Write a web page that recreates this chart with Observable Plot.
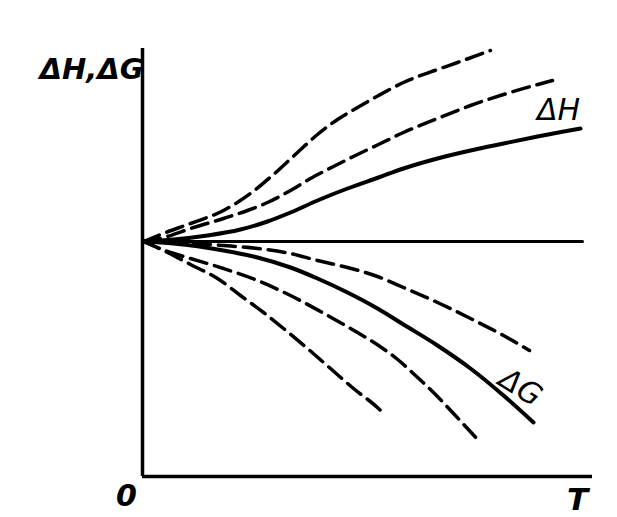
<!DOCTYPE html>
<html>
<head>
<meta charset="utf-8">
<script src="https://cdn.jsdelivr.net/npm/d3@7"></script>
<script src="https://cdn.jsdelivr.net/npm/@observablehq/plot@0.6"></script>
<style>
  html, body { margin: 0; padding: 0; background: #fff; }
  svg { display: block; }
</style>
</head>
<body>
<div id="chart"></div>
<script>
// Values (T, energy) in arbitrary units
const tH1 = [1, 18, 48, 81, 108, 131, 155, 175, 195, 215, 236, 261, 295, 315, 348];
const vH1 = [235, 242, 253, 266, 283, 302, 324, 342, 357, 369, 381, 394, 407, 414, 426];

const tH2 = [1, 21, 51, 81, 105, 125, 148, 168, 191, 215, 236, 261, 295, 328, 361, 410];
const vH2 = [235, 239, 249, 258, 266, 274, 286, 298, 310, 322, 332, 344, 358, 371, 382, 396];

const tH = [1, 31, 65, 98, 125, 148, 175, 205, 236, 261, 295, 328, 361, 395, 438];
const vH = [235, 237, 241, 247, 255, 264, 276, 288, 299, 308, 318, 326, 333, 340, 348];

const tFlat = [1, 440];
const vFlat = [235, 235];

const tG1 = [1, 38, 81, 115, 148, 175, 205, 235, 261, 295, 328, 361, 387];
const vG1 = [235, 234, 231, 228, 223, 216, 209, 200, 189, 174, 158, 141, 126];

const tG = [1, 31, 81, 115, 148, 175, 205, 235, 261, 295, 328, 361, 391];
const vG = [235, 233, 226, 219, 209, 198, 184, 168, 152, 131, 108, 81, 54];

const tG2 = [1, 25, 48, 81, 115, 148, 178, 208, 236, 254, 273, 293, 311, 336];
const vG2 = [235, 225, 218, 208, 196, 181, 165, 148, 131, 118, 101, 82, 63, 36];

const tG3 = [1, 25, 48, 75, 98, 121, 141, 165, 188, 211, 236, 243];
const vG3 = [235, 224, 212, 198, 181, 164, 148, 128, 108, 88, 68, 61];

const xAxisEnd = 450;
const yAxisEnd = 428;

const labels = ["ΔH,ΔG", "0", "T", "ΔH", "ΔG"];

const toRows = (ts, vs) => ts.map((t, i) => ({t, v: vs[i]}));

const ink = "#000";
const font = "'DejaVu Sans', sans-serif";
const dash = {stroke: ink, strokeWidth: 3.5, strokeDasharray: "17,8", curve: "monotone-x"};
const solid = {stroke: ink, strokeWidth: 4, curve: "monotone-x"};

const chart = Plot.plot({
  width: 617,
  height: 517,
  marginLeft: 142,
  marginRight: 25,
  marginTop: 48,
  marginBottom: 41,
  x: {domain: [0, xAxisEnd], axis: null},
  y: {domain: [0, yAxisEnd], axis: null},
  style: {fontFamily: font, background: "#fff"},
  marks: [
    Plot.ruleX([0], {y1: 0, y2: yAxisEnd, stroke: ink, strokeWidth: 3.5}),
    Plot.ruleY([0], {x1: 0, x2: xAxisEnd, stroke: ink, strokeWidth: 3.5}),
    Plot.line(toRows(tFlat, vFlat), {x: "t", y: "v", stroke: ink, strokeWidth: 3}),
    Plot.line(toRows(tH1, vH1), {x: "t", y: "v", ...dash}),
    Plot.line(toRows(tH2, vH2), {x: "t", y: "v", ...dash}),
    Plot.line(toRows(tH, vH), {x: "t", y: "v", ...solid}),
    Plot.line(toRows(tG1, vG1), {x: "t", y: "v", ...dash}),
    Plot.line(toRows(tG, vG), {x: "t", y: "v", ...solid}),
    Plot.line(toRows(tG2, vG2), {x: "t", y: "v", ...dash}),
    Plot.line(toRows(tG3, vG3), {x: "t", y: "v", ...dash}),
    Plot.text([labels[0]], {x: -51, y: 407, text: d => d, fontSize: 29, fontStyle: "italic", fontWeight: "bold", fill: ink, textAnchor: "middle", lineAnchor: "middle"}),
    Plot.text([labels[1]], {x: -16, y: -20, text: d => d, fontSize: 30, fontStyle: "italic", fontWeight: "bold", fill: ink, textAnchor: "middle", lineAnchor: "middle"}),
    Plot.text([labels[2]], {x: 435, y: -24, text: d => d, fontSize: 31, fontStyle: "italic", fontWeight: "bold", fill: ink, textAnchor: "middle", lineAnchor: "middle"}),
    Plot.text([labels[3]], {x: 416, y: 366, text: d => d, fontSize: 30, fontStyle: "italic", fill: ink, textAnchor: "middle", lineAnchor: "middle"}),
    Plot.text([labels[4]], {x: 378, y: 89, text: d => d, fontSize: 30, fontStyle: "italic", fill: ink, textAnchor: "middle", lineAnchor: "middle", rotate: 32})
  ]
});

document.getElementById("chart").appendChild(chart);
</script>
</body>
</html>
